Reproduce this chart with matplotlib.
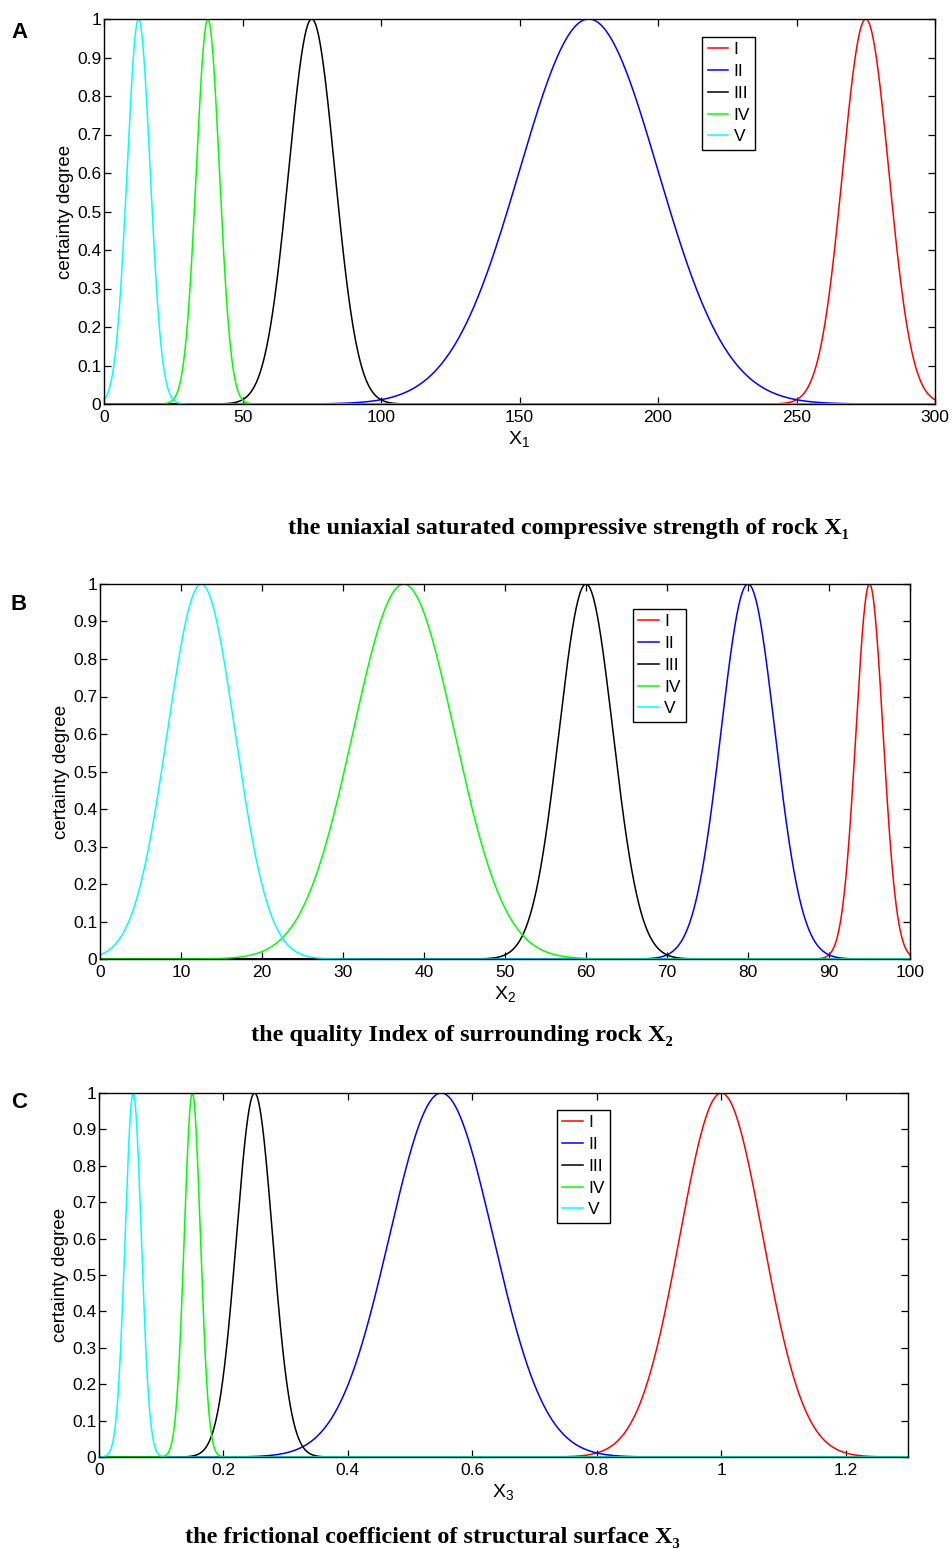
import numpy as np
import matplotlib
matplotlib.use("Agg")
import matplotlib.pyplot as plt
from matplotlib.ticker import FuncFormatter

plt.rcParams['font.family'] = ['Liberation Sans', 'DejaVu Sans']
plt.rcParams['mathtext.default'] = 'regular'

# ---- data (normal-cloud expectation Ex and entropy En for each grade) ----
grades = ['I', 'II', 'III', 'IV', 'V']
line_colors = ['#ff0000', '#0000ff', '#000000', '#00ff00', '#00ffff']

x1_Ex = [275, 175, 75, 37.5, 12.5]
x1_En = [8.33, 25.0, 8.33, 4.17, 4.17]

x2_Ex = [95, 80, 60, 37.5, 12.5]
x2_En = [1.67, 3.33, 3.33, 6.25, 4.17]

x3_Ex = [1.0, 0.55, 0.25, 0.15, 0.055]
x3_En = [0.0667, 0.0833, 0.029, 0.013, 0.013]

x1_ticks = [0, 50, 100, 150, 200, 250, 300]
x2_ticks = [0, 10, 20, 30, 40, 50, 60, 70, 80, 90, 100]
x3_ticks = [0, 0.2, 0.4, 0.6, 0.8, 1.0, 1.2]
y_ticks = [0, 0.1, 0.2, 0.3, 0.4, 0.5, 0.6, 0.7, 0.8, 0.9, 1.0]

W, H = 952, 1549
fig = plt.figure(figsize=(W / 100, H / 100), dpi=100)


def box(l, r, t, b):
    return [l / W, 1 - b / H, (r - l) / W, (b - t) / H]


def gfmt(v, pos):
    return ('%.2f' % v).rstrip('0').rstrip('.')


panels = [
    dict(rect=box(104, 935, 19, 404), Ex=x1_Ex, En=x1_En, xlim=(0, 300), ticks=x1_ticks,
         xlabel=r'X$_1$', leg=(0.72, 0.953), fs=12.5, letter='A', ly=33),
    dict(rect=box(100, 910, 584, 959), Ex=x2_Ex, En=x2_En, xlim=(0, 100), ticks=x2_ticks,
         xlabel=r'X$_2$', leg=(0.658, 0.933), fs=12.5, letter='B', ly=604),
    dict(rect=box(99, 908, 1093, 1457), Ex=x3_Ex, En=x3_En, xlim=(0, 1.3), ticks=x3_ticks,
         xlabel=r'X$_3$', leg=(0.566, 0.953), fs=12.5, letter='C', ly=1103),
]

for p in panels:
    ax = fig.add_axes(p['rect'])
    xs = np.linspace(p['xlim'][0], p['xlim'][1], 2000)
    for g, c, ex, en in zip(grades, line_colors, p['Ex'], p['En']):
        ax.plot(xs, np.exp(-(xs - ex) ** 2 / (2 * en ** 2)), color=c, lw=1.1, label=g)
    ax.set_xlim(*p['xlim'])
    ax.set_ylim(0, 1)
    ax.set_xticks(p['ticks'])
    ax.set_yticks(y_ticks)
    ax.xaxis.set_major_formatter(FuncFormatter(gfmt))
    ax.yaxis.set_major_formatter(FuncFormatter(gfmt))
    ax.tick_params(direction='in', length=5, width=0.9, top=True, right=True,
                   labelsize=p['fs'], pad=2, colors='black')
    ax.tick_params(axis='x', pad=4)
    for s in ax.spines.values():
        s.set_linewidth(1.0)
        s.set_color('black')
    ax.set_xlabel(p['xlabel'], fontsize=p['fs'] + 1.5, labelpad=3)
    ax.set_ylabel('certainty degree', fontsize=p['fs'] + 1, labelpad=2)
    leg = ax.legend(loc='upper left', bbox_to_anchor=p['leg'], fontsize=p['fs'],
                    frameon=True, fancybox=False, framealpha=1, edgecolor='black',
                    borderpad=0.3, labelspacing=0.38, handlelength=1.2, handletextpad=0.3,
                    borderaxespad=0)
    leg.get_frame().set_linewidth(1.0)
    fig.text(11 / W, 1 - p['ly'] / H, p['letter'], fontsize=16, fontweight='bold',
             ha='left', va='center')

serif = ['Liberation Serif', 'DejaVu Serif']
fig.text(569 / W, 1 - 529 / H, 'the uniaxial saturated compressive strength of rock X\u2081',
         family=serif, fontsize=17.5, fontweight='bold', ha='center', va='center')
fig.text(462 / W, 1 - 1035 / H, 'the quality Index of surrounding rock X\u2082',
         family=serif, fontsize=17.5, fontweight='bold', ha='center', va='center')
fig.text(432 / W, 1 - 1537 / H, 'the frictional coefficient of structural surface X\u2083',
         family=serif, fontsize=17.5, fontweight='bold', ha='center', va='center')

fig.savefig('out.png', dpi=100)
